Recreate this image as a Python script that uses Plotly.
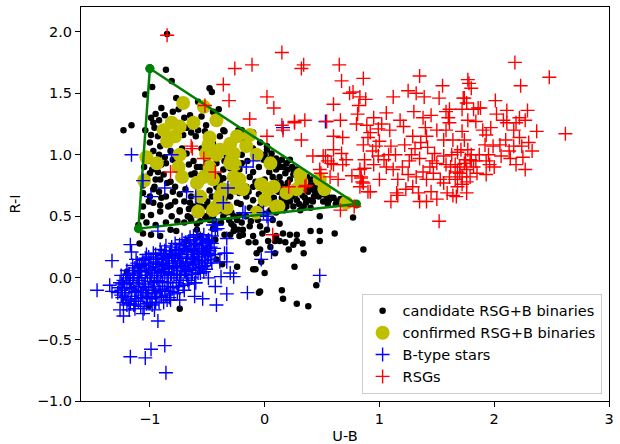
import plotly.graph_objects as go

# ---- data (U-B, R-I) ----
candidate_pts = [
    (-0.85, 1.98), (-0.86, 1.69), (-0.81, 1.60), (-1.04, 1.49), (-0.98, 1.55), (-0.77, 1.46),
    (-0.58, 1.43), (-0.48, 1.54), (-0.46, 1.51), (-0.45, 1.35),
    (-0.99, 1.30), (-0.97, 1.26), (-1.23, 1.20), (-1.16, 1.24),
    (-0.99, 1.16), (-1.00, 1.10), (-0.93, 1.15), (-0.91, 1.07), (-0.97, 1.03),
    (-0.68, 1.22), (-0.71, 1.16), (-0.52, 1.19), (-0.51, 1.24), (-0.35, 1.19),
    (-0.91, 0.80), (-0.85, 0.77), (-0.97, 0.72), (-1.06, 0.69), (-1.00, 0.66),
    (-1.06, 0.58), (-0.97, 0.61), (-0.99, 0.51), (-1.07, 0.50), (-0.91, 0.54), (-0.84, 0.58),
    (-0.78, 0.62), (-0.74, 0.54), (-0.81, 0.50),
    (-0.67, 0.50), (-0.64, 0.47), (-0.59, 0.44), (-0.52, 0.50), (-0.65, 0.61), (-0.69, 0.72), (-0.64, 0.66),
    (-0.78, 0.89), (-0.62, 0.95), (-0.61, 0.85), (-0.59, 0.90), (-0.68, 1.01), (-0.82, 1.03), (-0.72, 1.05),
    (-0.45, 0.80), (-0.39, 0.78), (-0.48, 0.71), (-0.42, 0.74), (-0.32, 0.73), (-0.53, 0.66),
    (-0.36, 0.88), (-0.33, 0.99), (-0.30, 0.89), (-0.26, 0.84), (-0.24, 0.74),
    (-0.48, 0.47), (-0.42, 0.54), (-0.36, 0.50), (-0.51, 0.58), (-0.29, 0.53), (-0.24, 0.47), (-0.29, 0.44),
    (-0.23, 1.20), (-0.26, 1.12), (-0.30, 1.10),
    (-0.04, 1.10), (0.02, 1.07), (0.06, 1.01), (0.10, 0.97), (0.15, 0.96), (0.19, 0.93), (0.24, 0.90),
    (0.28, 0.88), (0.32, 0.85), (0.37, 0.82), (0.41, 0.80), (0.44, 0.76), (0.48, 0.72), (0.54, 0.67),
    (0.58, 0.65), (0.63, 0.62), (0.68, 0.61),
    (0.02, 1.04), (0.10, 0.88), (0.13, 0.82), (0.07, 0.82), (0.16, 0.74), (0.25, 0.72), (0.28, 0.63),
    (0.34, 0.58), (0.39, 0.63), (0.44, 0.70), (0.47, 0.66), (0.51, 0.62), (0.31, 0.55), (0.25, 0.58), (0.19, 0.58),
    (-0.13, 0.82), (-0.16, 0.74), (-0.10, 0.74), (-0.22, 0.69), (-0.16, 0.66), (-0.24, 0.61), (-0.10, 0.63),
    (-0.04, 0.58), (0.02, 0.61), (0.05, 0.55), (0.10, 0.53),
    (-0.39, 0.55), (-0.33, 0.53), (-0.27, 0.50), (-0.22, 0.51), (-0.16, 0.50), (-0.45, 0.50), (-0.51, 0.49),
    (-0.39, 1.15), (-0.36, 1.20), (-0.45, 1.09), (-0.33, 1.07), (-0.30, 0.99), (-0.42, 0.93), (-0.22, 0.88),
    (-0.27, 0.82), (-0.36, 0.81),
    (-0.04, 1.01), (-0.01, 0.96), (0.10, 0.96), (0.13, 0.90), (0.18, 0.85), (0.22, 0.80),
    (0.22, 0.96), (0.25, 0.88), (0.31, 0.82), (0.37, 0.77), (0.42, 0.72), (0.48, 0.69), (0.54, 0.66), (0.60, 0.65),
    (-0.27, 0.42), (-0.19, 0.39), (-0.22, 0.34), (-0.13, 0.42), (-0.04, 0.42), (-0.10, 0.34), (0.02, 0.39),
    (0.10, 0.34), (0.16, 0.36), (0.22, 0.35), (0.28, 0.35), (0.13, 0.30), (0.25, 0.27), (0.28, 0.30),
    (0.34, 0.20), (0.48, 0.50), (0.48, 0.38), (0.48, 0.30), (0.61, 0.36), (0.77, 0.49), (0.86, 0.23),
    (-0.04, 0.23), (-0.07, 0.20), (0.09, 0.20), (0.21, 0.23), (-0.03, 0.13), (-0.10, 0.07), (0.00, 0.04),
    (0.26, 0.09), (0.45, -0.06), (0.15, -0.10), (-0.04, -0.11), (0.16, -0.17), (0.28, -0.21), (0.38, -0.23),
    (0.09, 0.30), (0.05, 0.25),
    (-1.06, 0.36), (-0.99, 0.35), (-1.09, 0.28), (-1.10, 0.43), (-1.20, 0.05), (-1.01, -0.23), (-0.74, -0.25),
    (-0.43, 0.31), (-0.42, 0.15), (-0.37, 0.11), (-0.30, 0.35), (-0.23, 0.39), (-0.19, 0.35), (-0.08, 0.07),
    (-0.24, 0.09), (-0.51, 0.21), (-0.05, -0.12),
    (-1.01, 0.62), (-0.91, 0.59), (-0.82, 0.59), (-0.74, 0.55), (-0.65, 0.49), (-0.59, 0.51), (-0.48, 0.53),
    (-0.91, 0.34), (-0.82, 0.39), (-0.68, 0.30), (-0.56, 0.34), (-0.53, 0.23),
    (-0.77, 0.38), (-0.59, 0.39), (-0.45, 0.40), (-0.35, 0.35), (-0.27, 0.38),
    (-1.05, 0.90), (-1.00, 0.85), (-0.95, 0.80), (-1.06, 0.75), (-0.90, 0.92), (-0.87, 0.98), (-0.83, 1.10),
    (-0.95, 1.33), (-0.90, 1.38), (-0.75, 1.37), (-0.65, 1.32), (-0.60, 1.26), (-0.55, 1.31), (-0.40, 1.37),
    (-0.85, 1.22), (-0.60, 1.15), (-0.55, 1.05), (-0.50, 0.95), (-0.45, 0.88), (-0.55, 0.78), (-0.70, 0.80),
    (-0.80, 0.70), (-0.90, 0.65), (-0.20, 1.00), (-0.15, 0.95), (-0.10, 1.05), (-0.05, 0.90), (0.00, 0.80),
    (0.05, 0.70), (-0.05, 0.68), (0.15, 0.65), (0.20, 0.68), (0.35, 0.65), (0.30, 0.72), (0.38, 0.70),
    (-0.18, 1.10), (-0.12, 1.14),
    (0.00, 1.00), (0.05, 0.97), (0.08, 0.92), (0.12, 0.94), (0.16, 0.90), (0.20, 0.88), (0.25, 0.84),
    (0.29, 0.80), (0.33, 0.76), (0.36, 0.72), (0.40, 0.75), (0.43, 0.66), (0.46, 0.74), (0.50, 0.68),
    (0.56, 0.63), (0.62, 0.60), (0.66, 0.64), (0.72, 0.60), (0.04, 0.86), (0.09, 0.78), (0.14, 0.77),
    (0.20, 0.77), (0.24, 0.66), (0.30, 0.60), (0.36, 0.61), (0.40, 0.57), (0.22, 0.62), (0.17, 0.55),
    (0.08, 0.65), (0.00, 0.52), (-0.06, 0.47), (-0.12, 0.46), (-0.20, 0.45), (-0.31, 0.47), (-0.38, 0.45),
    (0.07, 0.47), (0.13, 0.44), (-0.02, 0.36), (0.03, 0.30), (0.18, 0.29), (-0.14, 0.29), (-0.08, 0.29),
    (0.33, 0.28), (0.40, 0.38),
    (-1.02, 0.95), (-0.98, 0.88), (-1.04, 0.82), (-0.93, 0.86), (-0.88, 0.84), (-0.96, 0.74), (-0.92, 0.70),
    (-0.86, 0.66), (-0.82, 0.78), (-0.78, 0.74), (-0.74, 0.68), (-0.70, 0.62), (-0.66, 0.56), (-0.62, 0.58),
    (-0.58, 0.62), (-0.55, 0.58), (-0.50, 0.62), (-0.46, 0.66), (-0.40, 0.70), (-0.35, 0.64), (-0.30, 0.66),
    (-0.21, 0.60), (-0.13, 0.57), (-0.08, 0.52), (-0.70, 0.45), (-0.76, 0.46), (-0.86, 0.45), (-0.95, 0.43),
    (-1.03, 0.45), (-0.56, 0.46), (-0.44, 0.46), (-1.04, 1.20), (-0.96, 1.22), (-0.92, 1.28), (-0.87, 1.32),
    (-0.80, 1.35), (-0.70, 1.30), (-0.64, 1.18), (-0.58, 1.20), (-0.92, 1.00), (-0.86, 0.93), (-0.80, 0.96),
    (-0.66, 0.92), (-0.64, 0.84), (-0.56, 0.90), (-0.52, 0.86), (-0.40, 0.83), (-0.35, 0.95), (-0.20, 0.93),
    (-0.10, 0.86), (-0.08, 0.78), (-0.14, 0.70), (0.02, 0.66), (0.06, 0.62), (0.12, 0.70), (0.18, 0.62),
    (0.27, 0.68), (0.33, 0.67), (0.42, 0.62), (0.55, 0.60), (-0.20, 1.20), (-0.10, 1.18),
]

confirmed_pts = [
    (-0.71, 1.42), (-0.53, 1.39), (-0.42, 1.28), (-0.62, 1.26), (-0.81, 1.26), (-0.74, 1.23), (-0.88, 1.20),
    (-0.78, 1.15), (-0.85, 1.11), (-1.03, 0.98), (-0.94, 0.93), (-1.05, 0.79), (-0.74, 1.00), (-0.75, 0.90),
    (-0.72, 0.82), (-0.59, 0.77), (-0.48, 1.14), (-0.49, 1.08), (-0.42, 1.00), (-0.48, 0.90), (-0.53, 0.82),
    (-0.45, 0.80), (-0.56, 0.66), (-0.58, 0.54), (-0.39, 0.66), (-0.42, 0.58), (-0.33, 0.57), (-0.24, 1.15),
    (-0.13, 1.16), (-0.16, 1.07), (-0.32, 1.05), (-0.29, 0.96), (-0.26, 0.92), (-0.27, 0.82), (-0.22, 0.80),
    (-0.19, 0.72), (-0.26, 0.73), (-0.07, 1.00), (0.05, 0.93), (-0.03, 0.76), (0.03, 0.72), (0.00, 0.63),
    (-0.07, 0.53), (0.10, 0.58), (0.19, 0.69), (0.28, 0.72), (0.31, 0.84), (0.32, 0.78), (0.48, 0.80),
    (0.52, 0.72), (0.71, 0.61), (0.08, 0.74), (0.12, 0.58), (-0.51, 1.01), (-0.39, 1.04), (-0.30, 1.09),
    (-0.27, 1.01), (-0.30, 0.93), (-0.36, 0.72), (-0.39, 0.61), (-0.45, 0.55),
]

btype_pts = [
    # dense cluster
    (-1.24, -0.05), (-1.22, -0.12), (-1.21, 0.02), (-1.19, -0.18), (-1.18, -0.08), (-1.23, -0.20), (-1.20, 0.06),
    (-1.16, -0.15), (-1.15, 0.00), (-1.14, -0.22), (-1.13, 0.08), (-1.12, -0.07), (-1.11, 0.12), (-1.10, -0.19),
    (-1.09, -0.02), (-1.08, 0.05), (-1.13, -0.11),
    (-1.06, -0.16), (-1.05, 0.10), (-1.05, -0.05), (-1.04, 0.16), (-1.03, -0.21), (-1.02, 0.02), (-1.01, -0.10),
    (-1.00, 0.12), (-0.99, -0.17), (-0.98, 0.06), (-1.03, 0.19), (-0.99, -0.03),
    (-0.97, 0.20), (-0.96, -0.12), (-0.95, 0.09), (-0.95, -0.20), (-0.94, 0.00), (-0.93, 0.15), (-0.92, -0.07),
    (-0.91, 0.23), (-0.90, -0.15), (-0.90, 0.05), (-0.93, -0.02),
    (-0.88, 0.18), (-0.87, -0.10), (-0.86, 0.10), (-0.86, 0.26), (-0.85, -0.04), (-0.84, 0.14), (-0.83, -0.16),
    (-0.82, 0.22), (-0.81, 0.03), (-0.80, -0.08), (-0.80, 0.17),
    (-0.78, 0.28), (-0.77, 0.08), (-0.76, -0.12), (-0.75, 0.20), (-0.74, 0.00), (-0.73, 0.13), (-0.72, 0.31),
    (-0.71, -0.06), (-0.70, 0.24), (-0.70, 0.06),
    (-0.68, 0.17), (-0.67, -0.02), (-0.66, 0.30), (-0.65, 0.10), (-0.64, 0.23), (-0.63, 0.03), (-0.62, 0.34),
    (-0.61, 0.15), (-0.60, 0.27), (-0.60, -0.04),
    (-0.58, 0.20), (-0.57, 0.08), (-0.56, 0.32), (-0.55, 0.14), (-0.53, 0.26), (-0.52, 0.10), (-0.50, 0.30),
    (-0.49, 0.18), (-0.47, 0.25), (-0.46, 0.34),
    (-1.17, -0.02), (-1.07, -0.12), (-0.97, -0.07), (-0.89, 0.12), (-0.79, 0.10), (-0.69, 0.12), (-0.59, 0.22),
    (-1.10, 0.02), (-1.00, 0.00), (-0.84, 0.04), (-0.74, 0.16), (-0.64, 0.16), (-0.54, 0.20),
    (-1.23, -0.02), (-1.21, -0.15), (-1.19, 0.00), (-1.17, -0.21), (-1.16, -0.09), (-1.14, 0.04), (-1.12, -0.17),
    (-1.10, -0.10), (-1.09, 0.09), (-1.08, -0.23), (-1.07, 0.00), (-1.06, 0.14), (-1.04, -0.08), (-1.03, 0.06),
    (-1.02, -0.15), (-1.01, 0.17), (-0.99, 0.02), (-0.98, -0.22), (-0.97, 0.12), (-0.96, -0.04), (-0.95, 0.19),
    (-0.94, -0.16), (-0.93, 0.06), (-0.92, 0.11), (-0.91, -0.11), (-0.90, 0.16), (-0.89, -0.03), (-0.88, 0.07),
    (-0.87, 0.22), (-0.86, -0.14), (-0.85, 0.12), (-0.84, -0.07), (-0.83, 0.19), (-0.82, 0.00), (-0.81, 0.25),
    (-0.80, 0.09), (-0.79, -0.13), (-0.78, 0.14), (-0.77, 0.23), (-0.76, 0.03), (-0.75, -0.07), (-0.74, 0.27),
    (-0.73, 0.06), (-0.72, 0.19), (-0.71, 0.10), (-0.70, -0.10), (-0.69, 0.29), (-0.68, 0.02), (-0.67, 0.21),
    (-0.66, 0.07), (-0.65, 0.33), (-0.64, 0.00), (-0.63, 0.19), (-0.62, 0.11), (-0.61, 0.28), (-0.60, 0.06),
    (-0.59, 0.31), (-0.58, 0.13), (-0.57, 0.24), (-0.56, 0.04), (-0.55, 0.28), (-0.54, 0.09), (-0.53, 0.35),
    (-0.52, 0.19), (-0.51, 0.24), (-0.50, 0.12), (-0.49, 0.31), (-0.48, 0.22), (-0.46, 0.28), (-0.44, 0.24),
    (-1.18, -0.26), (-1.13, -0.25), (-1.05, -0.25), (-0.96, -0.26), (-0.88, -0.20), (-0.82, -0.18),
    (-1.27, -0.08), (-1.25, 0.02), (-1.15, 0.10), (-1.12, 0.15),
    (-1.22, -0.08), (-1.20, -0.22), (-1.18, 0.03), (-1.16, -0.12), (-1.14, -0.04), (-1.13, -0.19), (-1.11, 0.00),
    (-1.10, 0.06), (-1.08, -0.14), (-1.07, 0.11), (-1.06, -0.07), (-1.04, 0.02), (-1.03, -0.12), (-1.01, 0.08),
    (-1.00, -0.20), (-0.99, 0.15), (-0.98, -0.10), (-0.96, 0.04), (-0.95, -0.13), (-0.94, 0.13), (-0.92, -0.20),
    (-0.91, 0.02), (-0.90, 0.20), (-0.89, -0.09), (-0.87, 0.04), (-0.86, 0.16), (-0.85, -0.18), (-0.83, 0.08),
    (-0.82, -0.11), (-0.81, 0.18), (-0.79, 0.02), (-0.78, 0.20), (-0.77, -0.04), (-0.76, 0.12), (-0.74, 0.22),
    (-0.73, -0.02), (-0.72, 0.09), (-0.71, 0.26), (-0.69, 0.05), (-0.68, 0.22), (-0.67, 0.13), (-0.66, -0.05),
    (-0.65, 0.26), (-0.63, 0.08), (-0.62, 0.21), (-0.60, 0.12), (-0.59, 0.35), (-0.58, 0.04), (-0.57, 0.17),
    (-0.55, 0.22), (-0.54, 0.31), (-0.52, 0.14), (-0.51, 0.29), (-0.50, 0.20), (-0.48, 0.28), (-0.47, 0.15),
    (-1.28, -0.12), (-1.25, -0.10), (-1.24, -0.16), (-1.20, -0.04),
    # scattered
    (-1.33, 0.14), (-1.46, -0.10), (-1.35, -0.06), (-1.33, -0.11), (-1.26, -0.04), (-1.25, -0.14),
    (-1.26, -0.26), (-1.23, -0.31), (-1.06, -0.29), (-0.93, -0.35), (-0.87, -0.55), (-0.99, -0.58),
    (-1.04, -0.65), (-1.17, -0.64), (-0.86, -0.77), (-0.74, -0.18), (-0.61, -0.15), (-0.54, -0.17),
    (-0.42, -0.22), (-0.43, -0.07), (-0.33, -0.13), (-0.38, 0.01), (-0.30, 0.04), (-0.27, 0.01),
    (-0.15, -0.12), (-0.61, -0.04), (-0.51, 0.07), (-0.46, 0.12), (-0.39, 0.13), (-0.33, 0.20),
    (-0.93, 0.38), (-1.17, 0.27), (-1.16, 0.21), (-0.43, 0.39), (-0.45, 0.43), (-0.33, 0.32),
    (-0.35, 0.20), (-0.33, 0.13), (-0.43, 0.19), (-0.03, 0.15), (-0.17, 0.53), (-0.01, 0.53),
    (0.02, 0.50), (-0.36, 0.61), (-0.53, 0.05), (-0.49, 0.00),
    (-1.16, 1.00), (-0.81, 1.00), (-1.06, 0.79), (-0.99, 0.66), (-0.87, 0.73), (-0.68, 0.70),
    (-0.60, 0.66), (-0.32, 0.73), (-0.42, 0.43), (-0.16, 0.90), (-0.10, 0.95), (-0.19, 0.53),
    (0.03, 0.47), (0.53, 1.27), (0.16, 1.22), (-0.41, 0.40), (0.06, 0.21), (0.48, 0.02),
]

rsg_pts = [
    (-0.85, 1.97), (0.15, 1.83), (0.34, 1.73), (0.32, 1.70), (0.65, 1.73), (0.67, 1.60), (0.86, 1.62),
    (1.35, 1.64), (1.55, 1.56), (1.77, 1.61), (1.78, 1.58), (1.80, 1.54), (2.18, 1.75), (2.48, 1.63),
    (2.23, 1.56), (0.74, 1.50), (0.77, 1.51), (0.83, 1.47), (0.88, 1.45), (0.82, 1.40), (0.60, 1.41),
    (1.12, 1.47), (1.25, 1.52), (1.32, 1.50), (1.39, 1.47), (1.52, 1.46), (1.74, 1.46), (1.76, 1.42),
    (1.61, 1.37), (1.58, 1.35), (1.86, 1.38), (1.82, 1.37), (2.01, 1.44), (2.11, 1.36), (2.29, 1.36),
    (2.22, 1.30), (2.27, 1.28), (2.37, 1.19), (2.62, 1.17), (0.81, 1.33), (0.80, 1.25), (0.66, 1.28),
    (0.54, 1.27), (0.35, 1.28), (0.26, 1.26), (0.32, 1.12), (0.60, 1.15), (0.68, 1.14), (0.60, 1.04),
    (0.42, 0.99), (0.53, 0.99), (0.55, 0.95), (0.58, 0.93), (0.67, 1.01), (0.71, 0.96), (0.68, 0.92),
    (0.76, 0.83), (0.84, 0.82), (0.85, 0.78), (0.83, 0.74), (0.90, 0.70), (0.48, 0.88), (0.49, 0.85),
    (0.57, 0.82), (0.64, 0.80), (0.36, 0.75), (0.21, 0.74), (0.66, 0.55), (0.78, 0.58), (1.52, 0.46),
    (0.95, 1.30), (0.89, 1.24), (0.92, 1.18), (0.90, 1.14), (0.99, 1.21), (1.00, 1.11), (0.97, 1.07),
    (0.99, 0.99), (0.86, 1.08), (0.87, 0.96), (0.83, 0.88), (0.87, 0.89), (0.84, 0.81), (0.86, 0.77),
    (0.92, 0.70), (1.06, 1.34), (1.09, 1.20), (1.10, 1.07), (1.08, 1.00), (1.06, 0.90), (1.12, 0.88),
    (1.18, 1.28), (1.21, 1.23), (1.22, 1.08), (1.26, 0.95), (1.25, 0.84),
    (1.38, 1.30), (1.40, 1.22), (1.41, 1.15), (1.29, 1.15), (1.31, 1.05), (1.35, 0.97), (1.38, 0.86),
    (1.32, 0.82), (1.29, 0.74), (1.34, 0.69), (1.35, 0.62), (1.41, 0.62), (1.15, 0.69), (1.16, 0.67),
    (1.10, 0.62), (1.50, 1.20), (1.56, 1.12), (1.48, 1.01), (1.56, 0.99), (1.50, 0.93), (1.44, 0.90),
    (1.47, 0.85), (1.53, 0.80), (1.41, 0.80), (1.61, 0.82), (1.56, 0.77), (1.59, 0.69), (1.64, 0.67),
    (1.67, 0.66), (1.76, 0.69), (1.60, 1.30), (1.61, 1.26), (1.58, 1.20), (1.64, 1.12), (1.72, 1.19),
    (1.74, 1.12), (1.71, 1.04), (1.77, 1.04), (1.79, 0.96), (1.74, 0.93), (1.76, 0.88), (1.70, 0.85),
    (1.72, 0.82), (1.79, 0.82), (1.82, 0.90), (1.85, 0.85), (1.73, 1.46), (1.72, 1.37), (1.77, 1.28),
    (1.84, 1.27), (1.88, 1.38), (1.93, 1.16), (1.92, 1.08), (1.93, 0.95), (1.96, 0.92), (1.93, 0.84),
    (1.99, 1.07), (2.05, 1.08), (2.06, 0.99), (2.14, 0.97), (2.17, 1.07), (2.11, 1.26), (2.17, 1.20),
    (2.22, 1.14), (2.24, 1.07), (2.33, 1.03), (2.19, 0.92), (2.27, 0.88), (2.02, 1.33), (2.08, 1.28),
    (2.19, 1.26), (1.80, 0.95), (1.70, 0.90), (1.76, 0.78), (1.66, 0.92), (1.68, 1.02), (1.87, 1.00),
    (0.02, 1.47), (0.08, 1.38), (0.15, 1.24), (0.16, 1.20), (0.26, 1.27), (0.02, 1.15), (0.60, 0.92),
    (-0.26, 1.70), (-0.11, 1.73), (-0.36, 1.57), (-0.31, 1.44), (-0.13, 1.29), (0.51, 0.99),
    (-0.52, 1.40), (-0.64, 1.07), (-0.63, 1.05), (-0.53, 0.97), (-0.43, 0.86), (-0.82, 0.86),
    (0.35, 0.74), (0.07, 0.35),
    (1.62, 0.90), (1.66, 0.80), (1.68, 0.74), (1.72, 0.76), (1.75, 0.96), (1.80, 1.00), (1.84, 0.95),
    (1.68, 0.86), (1.63, 1.00), (1.58, 0.92), (1.46, 0.95), (1.42, 1.06), (1.36, 1.10), (1.28, 1.00),
    (1.20, 0.90), (1.16, 0.80), (1.04, 0.96), (1.95, 1.00), (2.00, 0.90), (2.10, 1.12), (2.13, 1.03),
    (2.30, 1.10), (2.25, 0.98), (1.90, 1.20), (1.97, 1.22), (1.45, 1.32), (1.30, 1.35), (1.02, 1.25),
    (0.95, 0.92), (1.14, 1.00), (1.23, 0.72), (1.45, 0.70), (1.50, 0.64), (1.00, 0.80), (0.94, 1.03),
]

triangle_ub = [-1.0, -1.1, 0.8, -1.0]
triangle_ri = [1.7, 0.4, 0.6, 1.7]

x_ticks = [-1, 0, 1, 2, 3]
y_ticks = [-1.0, -0.5, 0.0, 0.5, 1.0, 1.5, 2.0]


def unzip(pts):
    return [p[0] for p in pts], [p[1] for p in pts]


FONT = "DejaVu Sans"
FS = 14.5

fig = go.Figure()

cx, cy = unzip(candidate_pts)
fig.add_trace(go.Scatter(x=cx, y=cy, mode="markers", name="candidate RSG+B binaries",
                         marker=dict(color="black", size=6.5, line=dict(width=0))))

yx, yy = unzip(confirmed_pts)
fig.add_trace(go.Scatter(x=yx, y=yy, mode="markers", name="confirmed RSG+B binaries",
                         marker=dict(color="#bfbf00", size=14, line=dict(width=0))))

fig.add_trace(go.Scatter(x=triangle_ub, y=triangle_ri, mode="lines+markers", showlegend=False,
                         line=dict(color="green", width=2.5),
                         marker=dict(color="green", size=9)))

bx, by = unzip(btype_pts)
fig.add_trace(go.Scatter(x=bx, y=by, mode="markers", name="B-type stars",
                         marker=dict(symbol="cross-thin", size=10, color="blue",
                                     line=dict(color="blue", width=1.4))))

rx, ry = unzip(rsg_pts)
fig.add_trace(go.Scatter(x=rx, y=ry, mode="markers", name="RSGs",
                         marker=dict(symbol="cross-thin", size=10, color="red",
                                     line=dict(color="red", width=1.4))))

axis_common = dict(showgrid=False, zeroline=False, showline=True, linecolor="black", linewidth=1,
                   mirror=True, ticks="outside", ticklen=5, tickcolor="black", tickwidth=1,
                   automargin=False,
                   tickfont=dict(family=FONT, size=FS, color="black"))

fig.update_xaxes(range=[-1.6, 3.0], tickvals=x_ticks,
                 ticktext=[("\u2212" + str(-t)) if t < 0 else str(t) for t in x_ticks],
                 title=dict(text="U-B", font=dict(family=FONT, size=FS, color="black"), standoff=4),
                 **axis_common)
fig.update_yaxes(range=[-1.0, 2.2], tickvals=y_ticks,
                 ticktext=[("\u2212%.1f" % -t) if t < 0 else ("%.1f" % t) for t in y_ticks],
                 title=dict(text="R-I", font=dict(family=FONT, size=FS, color="black"), standoff=12),
                 **axis_common)

fig.update_layout(
    width=620, height=444,
    margin=dict(l=81, r=11, t=7, b=43),
    plot_bgcolor="white", paper_bgcolor="white",
    font=dict(family=FONT, size=FS, color="black"),
    legend=dict(x=0.986, y=0.018, xanchor="right", yanchor="bottom",
                bgcolor="rgba(255,255,255,0.8)", bordercolor="#cccccc", borderwidth=1,
                font=dict(family=FONT, size=FS, color="black"),
                itemsizing="trace"),
)

fig.write_html("out.html", config={"displayModeBar": False},
               post_script="document.body.style.margin='0px';")
